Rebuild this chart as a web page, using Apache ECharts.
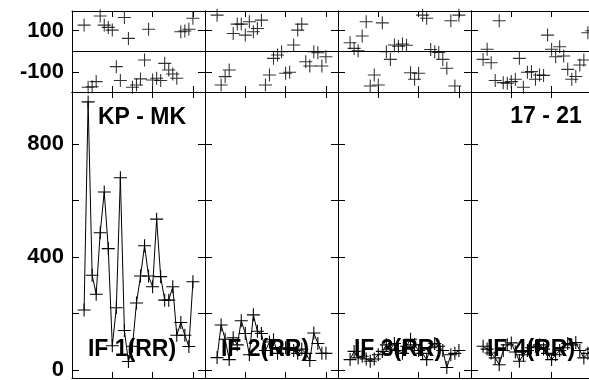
<!DOCTYPE html>
<html>
<head>
<meta charset="utf-8">
<script src="https://cdn.jsdelivr.net/npm/echarts@6/dist/echarts.min.js"></script>
<style>html,body{margin:0;padding:0;background:#fff;overflow:hidden}#c{width:589px;height:380px}</style>
</head>
<body>
<div id="c"></div>
<script>
// x positions (day index) shared by all panels
const days = [3,4,5,6,7,8,9,10,11,12,13,14,15,16,17,18,19,20,21,22,23,24,25,26,27,28,29,30];

// lower plots: IF (RR) values
const if1 = [213,948,336,269,486,630,430,87,221,680,141,31,85,238,333,440,333,295,534,331,248,248,295,124,169,124,84,313];
const if2 = [45,160,110,38,115,90,175,130,55,196,138,130,70,100,108,60,75,80,75,70,60,75,60,35,132,95,60,60];
const if3 = [38,67,44,50,40,32,40,55,67,90,75,95,70,60,85,110,90,70,60,38,80,95,85,70,10,55,60,70];
const if4 = [85,75,61,44,20,70,90,97,65,32,55,70,80,85,90,75,60,38,55,70,80,95,90,98,70,44,60,75];

// upper strips: phase values
const ph1 = [127,-172,-170,-145,171,127,116,103,-73,-140,164,63,-172,-161,-132,-41,107,-137,-129,-140,-57,-89,-108,-129,95,99,107,160];
const ph2 = [175,-161,-121,-89,87,132,132,79,143,95,111,151,-161,-113,-33,-17,-1,-105,-100,31,103,132,-49,-70,-1,-6,-70,-25];
const ph3 = [42,15,4,75,143,-166,-113,-161,138,-1,-38,31,25,36,30,-102,-134,-105,175,160,10,-1,-5,-38,-81,148,-166,175];
const ph4 = [-38,11,-54,-140,148,-150,-153,-145,-134,-33,-172,-100,-97,-134,-113,-115,79,11,-25,23,-22,-86,-134,-120,-65,-41,90,100];

const lowerLabels = ['IF 1(RR)','IF 2(RR)','IF 3(RR)','IF 4(RR)'];
const cornerLabels = ['KP - MK','17 - 21'];
const mainTicks = [0,200,400,600,800];
const mainTickLabels = [0,400,800];
const phaseTicks = [-100,100];
const xTicks = [10,20,30];

const lowers = [if1,if2,if3,if4];
const uppers = [ph1,ph2,ph3,ph4];

const plus = 'path://M5.5,0H6.5V5.5H12V6.5H6.5V12H5.5V6.5H0V5.5H5.5Z';
const FONT = '"Liberation Sans", Arial, sans-serif';
const panelLeft = [72,205,338,471];
const panelW = 133;

const grids=[], xAxes=[], yAxes=[], series=[], graphics=[];
const lineStyle = {color:'#000', width:1};

function addGrid(p, top, height, ymin, ymax, tickVals, labelVals, showLabels){
  const gi = grids.length;
  grids.push({left:panelLeft[p], top:top, width:panelW, height:height, containLabel:false, outerBoundsMode:'none'});
  ['bottom','top'].forEach(pos=>{
    xAxes.push({gridIndex:gi, type:'value', min:0, max:33, position:pos,
      axisLine:{show:true, onZero:false, lineStyle:lineStyle},
      axisTick:{show:true, inside:true, length:6, customValues:xTicks, lineStyle:lineStyle},
      axisLabel:{show:false}, splitLine:{show:false}});
  });
  ['left','right'].forEach(pos=>{
    yAxes.push({gridIndex:gi, type:'value', min:ymin, max:ymax, position:pos,
      axisLine:{show:true, onZero:false, lineStyle:lineStyle},
      axisTick:{show:true, inside:true, length:7, customValues:tickVals, lineStyle:lineStyle},
      axisLabel:{show: showLabels && pos==='left', customValues:labelVals, margin:8,
        fontFamily:FONT, fontWeight:'bold', fontSize:22, color:'#000'},
      splitLine:{show:false}});
  });
  return {xi: xAxes.length-2, yi: yAxes.length-2};
}

for(let p=0;p<4;p++){
  const up = addGrid(p, 11, 81, -195, 195, phaseTicks, phaseTicks, p===0);
  series.push({type:'scatter', xAxisIndex:up.xi, yAxisIndex:up.yi,
    data: days.map((d,i)=>[d, uppers[p][i]]),
    symbol:plus, symbolSize:13, itemStyle:{color:'#000'}, z:3,
    markLine:{silent:true, symbol:'none', label:{show:false},
      lineStyle:{color:'#000', type:'solid', width:1}, data:[{yAxis:0}], animation:false}
  });
  const lo = addGrid(p, 92, 286, -27, 983, mainTicks, mainTickLabels, p===0);
  series.push({type:'line', xAxisIndex:lo.xi, yAxisIndex:lo.yi,
    data: days.map((d,i)=>[d, lowers[p][i]]),
    symbol:plus, symbolSize:13, showSymbol:true, showAllSymbol:true,
    lineStyle:{color:'#000', width:1}, itemStyle:{color:'#000'}, z:3});
  graphics.push({type:'text', x:panelLeft[p]+60, y:350, z:10,
    style:{text:lowerLabels[p], font:'bold 23px '+FONT, fill:'#000', textAlign:'center', textVerticalAlign:'middle'}});
}
graphics.push({type:'text', x:142, y:118, z:10,
  style:{text:cornerLabels[0], font:'bold 23px '+FONT, fill:'#000', textAlign:'center', textVerticalAlign:'middle'}});
graphics.push({type:'text', x:546, y:117, z:10,
  style:{text:cornerLabels[1], font:'bold 23px '+FONT, fill:'#000', textAlign:'center', textVerticalAlign:'middle'}});

const chart = echarts.init(document.getElementById('c'), null, {renderer:'canvas'});
chart.setOption({
  animation:false,
  backgroundColor:'#fff',
  grid:grids, xAxis:xAxes, yAxis:yAxes, series:series,
  graphic:{elements:graphics}
});
</script>
</body>
</html>
